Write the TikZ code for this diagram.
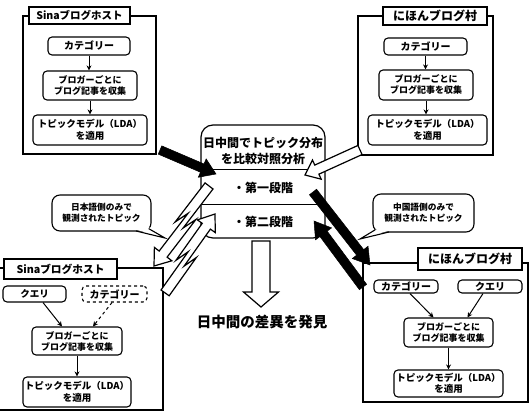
\documentclass[tikz,border=0pt]{standalone}
\usepackage{fontspec}
\setmainfont{Noto Sans CJK JP}
\usetikzlibrary{calc,arrows.meta}
\newcommand\fsz[2]{\fontsize{#1}{#2}\selectfont\bfseries}
% straight fat arrow: style, tail, tip, half shaft, half head, head length
\newcommand\fatarrow[6]{%
  \coordinate (fa-h) at ($(#3)!#6!(#2)$);
  \draw[#1] ($(#2)!#4!90:(#3)$) -- ($(fa-h)!#4!90:(#3)$) -- ($(fa-h)!#5!90:(#3)$) -- (#3)
    -- ($(fa-h)!#5!-90:(#3)$) -- ($(fa-h)!#4!-90:(#3)$) -- ($(#2)!#4!-90:(#3)$) -- cycle;}
% lightning fat arrow: style, tail, tip, half shaft, full shaft, half head, head length
\newcommand\boltarrow[7]{%
  \coordinate (ba-h) at ($(#3)!#7!(#2)$);
  \coordinate (ba-p) at ($(#2)!0.60!(ba-h)$);
  \coordinate (ba-q) at ($(#2)!0.42!(ba-h)$);
  \draw[#1] ($(#2)!#5!-90:(#3)$) -- ($(ba-p)!#5!-90:(#3)$) -- ($(ba-q)!#4!-90:(#3)$) -- ($(ba-h)!#4!-90:(#3)$)
    -- ($(ba-h)!#6!-90:(#3)$) -- (#3) -- ($(ba-h)!#6!90:(#3)$) -- ($(ba-h)!#4!90:(#3)$)
    -- ($(ba-q)!#4!90:(#3)$) -- (ba-p) -- (#2) -- cycle;}
\begin{document}
\begin{tikzpicture}[x=1pt,y=-1pt,
  frame/.style={draw, line width=1.6pt},
  lbl/.style={draw, fill=white, line width=1.4pt, inner sep=0pt},
  ibox/.style={draw, fill=white, rounded corners=4pt, line width=1.1pt, inner sep=0pt, align=center},
  iarr/.style={-{Stealth[length=5pt,width=5pt]}, line width=1pt},
  hollowarr/.style={draw, fill=white, line width=1.2pt, line join=miter},
  blackarr/.style={draw, fill=black, line width=0.5pt},
  bubble/.style={draw, fill=white, rounded corners=8pt, line width=1.1pt, inner sep=0pt, align=center, font=\fsz{8.7}{11}},
  cbox/.style={draw, fill=white, rounded corners=12pt, line width=1.2pt}]
\useasboundingbox (0,0) rectangle (532,414);

% ---------- top-left: Sina
\draw[frame] (23,16) rectangle (156,154);
\node[lbl, minimum width=101pt, minimum height=17pt, font=\fsz{10.5}{12}] (tllbl) at (79.5,15.5) {Sinaブログホスト};
\node[ibox, minimum width=82pt, minimum height=18pt, font=\fsz{10}{12}] (tlcat) at (89,46) {カテゴリー};
\node[ibox, minimum width=94pt, minimum height=29pt, font=\fsz{9}{11}] (tlblog) at (90,85.5) {ブロガーごとに\\ブログ記事を収集};
\node[ibox, minimum width=114pt, minimum height=30pt, font=\fsz{9.5}{12}] (tltopic) at (90,130) {トピックモデル（LDA）\\を適用};
\draw[iarr] (tlcat.south) -- (tlcat.south |- tlblog.north);
\draw[iarr] (tlblog.south) -- (tlblog.south |- tltopic.north);

% ---------- top-right: nihon blog mura
\draw[frame] (358,16) rectangle (493,155);
\node[lbl, minimum width=104pt, minimum height=18pt, font=\fsz{12}{14}] (trlbl) at (435,16) {にほんブログ村};
\node[ibox, minimum width=83pt, minimum height=17pt, font=\fsz{10}{12}] (trcat) at (425.5,46.5) {カテゴリー};
\node[ibox, minimum width=94pt, minimum height=30pt, font=\fsz{9}{11}] (trblog) at (426,85) {ブロガーごとに\\ブログ記事を収集};
\node[ibox, minimum width=119pt, minimum height=30pt, font=\fsz{9.5}{12}] (trtopic) at (427.5,130) {トピックモデル（LDA）\\を適用};
\draw[iarr] (trcat.south) -- (trcat.south |- trblog.north);
\draw[iarr] (trblog.south) -- (trblog.south |- trtopic.north);

% ---------- bottom-left: Sina
\draw[frame] (-3,268) rectangle (163,410);
\node[lbl, minimum width=113pt, minimum height=20pt, font=\fsz{10.7}{12}] (bllbl) at (60.5,269) {Sinaブログホスト};
\node[ibox, minimum width=63pt, minimum height=16pt, font=\fsz{9.5}{11}] (blq) at (34.5,294) {クエリ};
\node[ibox, dashed, minimum width=65pt, minimum height=16pt, font=\fsz{10}{11}] (blcat) at (114.5,294) {カテゴリー};
\node[ibox, minimum width=90pt, minimum height=28pt, font=\fsz{9}{11}] (blblog) at (77,341) {ブロガーごとに\\ブログ記事を収集};
\node[ibox, minimum width=108pt, minimum height=30pt, font=\fsz{9.5}{12}] (bltopic) at (77,392) {トピックモデル（LDA）\\を適用};
\draw[iarr] ($(blq.south)+(8.5,0)$) -- ($(blblog.north)+(-15,0)$);
\draw[iarr, dashed] ($(blcat.south)+(-2.5,0)$) -- ($(blblog.north)+(16,0)$);
\draw[iarr] (blblog.south) -- (blblog.south |- bltopic.north);

% ---------- bottom-right: nihon blog mura
\draw[frame] (363,263) rectangle (528,402);
\node[lbl, minimum width=104pt, minimum height=22pt, font=\fsz{12}{14}] (brlbl) at (470,259) {にほんブログ村};
\node[ibox, minimum width=64pt, minimum height=13pt, font=\fsz{10}{11}] (brcat) at (406,286.5) {カテゴリー};
\node[ibox, minimum width=64pt, minimum height=13pt, font=\fsz{10}{11}] (brq) at (490,286.5) {クエリ};
\node[ibox, minimum width=89pt, minimum height=29pt, font=\fsz{9}{11}] (brblog) at (448.5,332.5) {ブロガーごとに\\ブログ記事を収集};
\node[ibox, minimum width=109pt, minimum height=27pt, font=\fsz{9.5}{11.5}] (brtopic) at (448.5,383.5) {トピックモデル（LDA）\\を適用};
\draw[iarr] ($(brcat.south)+(4,0)$) -- ($(brblog.north)+(-15,0)$);
\draw[iarr] ($(brq.south)+(-7,0)$) -- ($(brblog.north)+(19,0)$);
\draw[iarr] (brblog.south) -- (brblog.south |- brtopic.north);

% ---------- centre box
\node[cbox, minimum width=124pt, minimum height=113pt] (cbox) at (263,181.5) {};
\draw[line width=1.2pt] ($(cbox.north west)+(0,45)$) -- ($(cbox.north east)+(0,45)$);
\draw[line width=1.2pt] ($(cbox.north west)+(0,80)$) -- ($(cbox.north east)+(0,80)$);
\node[align=center, font=\fsz{12}{16}] (ctitle) at (263,151) {日中間でトピック分布\\を比較対照分析};
\node[font=\fsz{12}{14}] (stage1) at (263,188) {・第一段階};
\node[font=\fsz{12}{14}] (stage2) at (263,222) {・第二段階};

% ---------- result
\node[font=\fsz{14.5}{16}] (result) at (262,322) {日中間の差異を発見};

% ---------- callouts
\node[bubble, minimum width=99pt, minimum height=36pt] (lcall) at (101.5,213) {日本語側のみで\\観測されたトピック};
\coordinate (lctip) at (165,238);
\fill[white] (136,229.6) -- (lctip) -- (148,226.8) -- (145,229) -- cycle;
\draw[line width=1.1pt] (136,231) -- (lctip) -- (148.6,228.6);
\node[bubble, minimum width=101pt, minimum height=38pt] (rcall) at (423.5,213) {中国語側のみで\\観測されたトピック};
\coordinate (rctip) at (360,239);
\fill[white] (375.8,229.5) -- (rctip) -- (389,230.6) -- (380,229.5) -- cycle;
\draw[line width=1.1pt] (375.2,229.8) -- (rctip) -- (389,232);

% ---------- fat arrows
\coordinate (a1s) at (160,150); \coordinate (a1e) at (216,174);
\fatarrow{blackarr}{a1s}{a1e}{4.5pt}{10pt}{15pt}
\coordinate (a2s) at (360,150); \coordinate (a2e) at (305,175);
\fatarrow{hollowarr}{a2s}{a2e}{5pt}{10.5pt}{13pt}
\coordinate (a3s) at (261,241); \coordinate (a3e) at (261,307);
\fatarrow{hollowarr}{a3s}{a3e}{9pt}{17.5pt}{15pt}
\coordinate (a4s) at (213,189); \coordinate (a4e) at (154,266);
\boltarrow{hollowarr}{a4s}{a4e}{5pt}{10pt}{11pt}{15pt}
\coordinate (a5s) at (161,290); \coordinate (a5e) at (215,214);
\boltarrow{hollowarr}{a5s}{a5e}{5pt}{10pt}{11pt}{15pt}
\coordinate (a6s) at (313,192); \coordinate (a6e) at (370,265);
\fatarrow{blackarr}{a6s}{a6e}{4.5pt}{10pt}{16pt}
\coordinate (a7s) at (363,287); \coordinate (a7e) at (314,221);
\fatarrow{blackarr}{a7s}{a7e}{4.5pt}{10pt}{16pt}
\end{tikzpicture}
\end{document}
